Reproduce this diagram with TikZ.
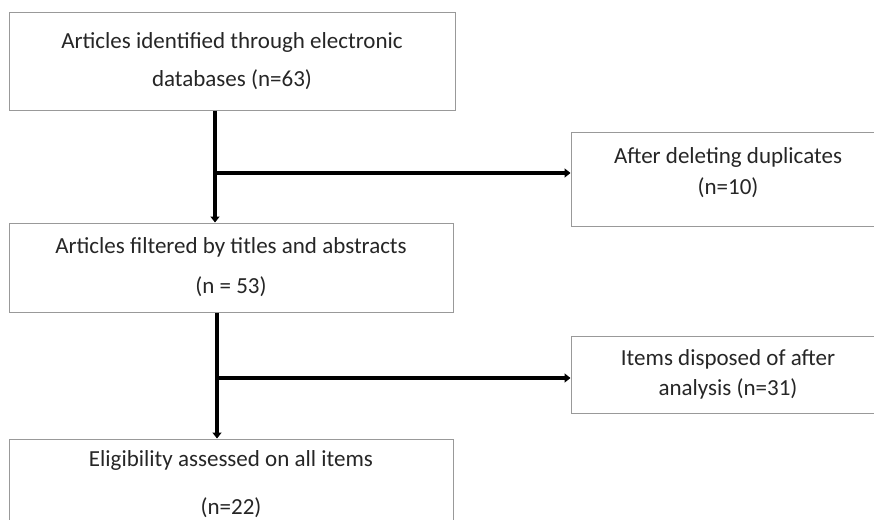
\documentclass[tikz,border=0pt]{standalone}
\usepackage{fontspec}
\setmainfont{Carlito}
\usetikzlibrary{arrows.meta}
\begin{document}
\begin{tikzpicture}[x=1pt,y=-1pt,
  box/.style={draw=black!40, line width=1pt, rectangle, inner sep=0pt, align=center, text=black!85},
  txt/.style={inner sep=0pt, align=center, text=black!85},
  flow/.style={line width=3.6pt, -{Triangle[width=9pt,length=6pt]}},
  link/.style={line width=3.6pt}]
\useasboundingbox (0,0) rectangle (874,519);
\fill[white] (0,0) rectangle (874,519);
\node[box, minimum width=446pt, minimum height=97pt,
      font=\fontsize{23}{38}\selectfont] (b1) at (232,61.5)
      {Articles identified through electronic\\databases (n=63)};
\node[box, minimum width=444pt, minimum height=89pt,
      font=\fontsize{23}{40}\selectfont] (b2) at (231,267.5)
      {Articles filtered by titles and abstracts\\(n = 53)};
\node[box, minimum width=444pt, minimum height=90pt,
      font=\fontsize{23}{48}\selectfont] (b3) at (231,484)
      {Eligibility assessed on all items\\(n=22)};
\node[box, minimum width=314pt, minimum height=94pt] (r1) at (728,179) {};
\node[txt, font=\fontsize{23}{31}\selectfont] (r1t) at (728,172.5)
      {After deleting duplicates\\(n=10)};
\node[box, minimum width=314pt, minimum height=77pt,
      font=\fontsize{23}{30}\selectfont] (r2) at (728,374.5)
      {Items disposed of after\\analysis (n=31)};
\coordinate (j1) at (215,173);
\coordinate (j2) at (217,378);
\draw[flow] (b1.south -| j1) -- (b2.north -| j1);
\draw[flow] ([xshift=-1.8pt]j1) -- (j1 -| r1.west);
\draw[flow] (b2.south -| j2) -- (b3.north -| j2);
\draw[flow] ([xshift=-1.8pt]j2) -- (j2 -| r2.west);
\end{tikzpicture}
\end{document}
